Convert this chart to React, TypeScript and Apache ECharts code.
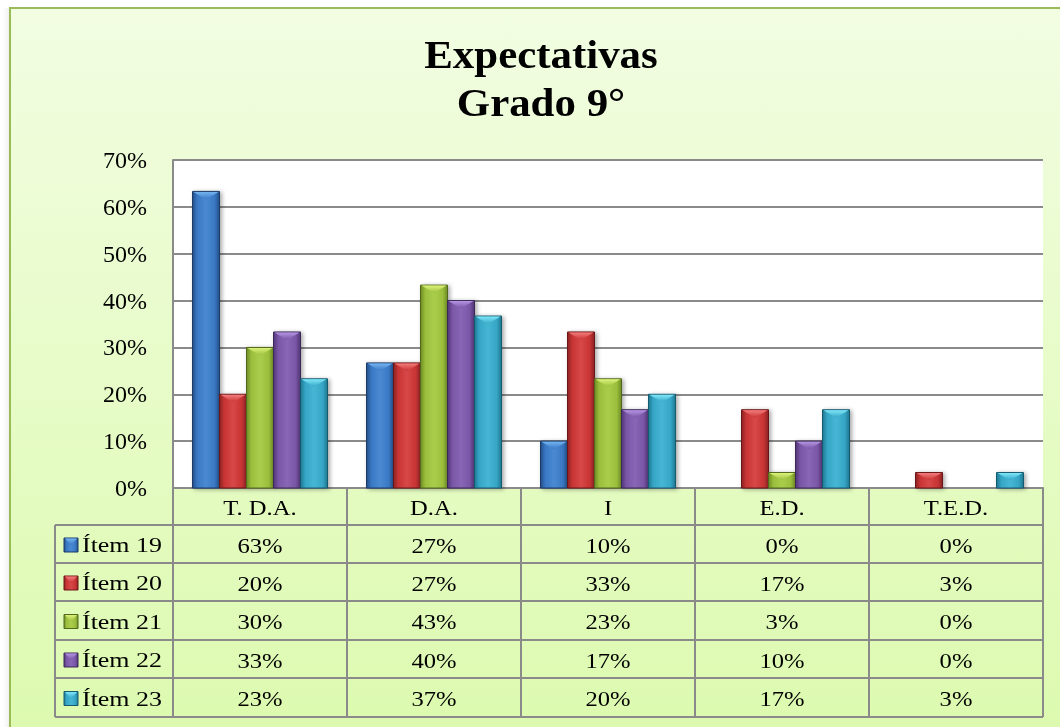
import React, { useEffect, useRef } from "react";
import * as echarts from "echarts";

const titleLines = ["Expectativas", "Grado 9°"];
const categories = ["T. D.A.", "D.A.", "I", "E.D.", "T.E.D."];
const seriesNames = ["Ítem 19", "Ítem 20", "Ítem 21", "Ítem 22", "Ítem 23"];
const item19 = [63.3, 26.7, 10, 0, 0];
const item20 = [20, 26.7, 33.3, 16.7, 3.3];
const item21 = [30, 43.3, 23.3, 3.3, 0];
const item22 = [33.3, 40, 16.7, 10, 0];
const item23 = [23.3, 36.7, 20, 16.7, 3.3];
const seriesData = [item19, item20, item21, item22, item23];
const yTicks = [0, 10, 20, 30, 40, 50, 60, 70];

const palettes = [
  { edge: "#234f88", main: "#3a78c4", light: "#4a8ad2", bevel: "#74b4f0", stroke: "#1b3b66" },
  { edge: "#8c2222", main: "#c83434", light: "#d84848", bevel: "#f47c7c", stroke: "#6a1818" },
  { edge: "#6e8c26", main: "#9bbf3c", light: "#aacd4c", bevel: "#dcf27a", stroke: "#52681c" },
  { edge: "#503676", main: "#7a56a6", light: "#8966b6", bevel: "#b494e2", stroke: "#3c2858" },
  { edge: "#1f7892", main: "#36a6c6", light: "#46b6d4", bevel: "#7ee6f8", stroke: "#175a6e" },
];

const FONT = '"Liberation Serif", "Times New Roman", serif';
const GRID_L = 173, GRID_T = 160, GRID_R = 1043, GRID_B = 488;
const LEG_L = 55;
const ROW_Y = [488, 525, 563, 601, 640, 678, 717];
const GROUP_FRAC = 135 / 174;
const LINE = "#8a8a8a";
const SX = 1.12;

function barFill(p: any) {
  return new echarts.graphic.LinearGradient(0, 0, 1, 0, [
    { offset: 0, color: p.edge },
    { offset: 0.18, color: p.main },
    { offset: 0.5, color: p.light },
    { offset: 0.82, color: p.main },
    { offset: 1, color: p.edge },
  ]);
}

function bevelFill(p: any) {
  return new echarts.graphic.LinearGradient(0, 0, 0, 1, [
    { offset: 0, color: p.bevel },
    { offset: 1, color: p.main },
  ]);
}

export default function App() {
  const ref = useRef<HTMLDivElement>(null);
  useEffect(() => {
    if (!ref.current) return;
    const chart = echarts.init(ref.current, undefined, { renderer: "svg" });

    const series = seriesData.map((data, s) => ({
      type: "custom",
      name: seriesNames[s],
      data: data.map((v, i) => [i, v]),
      z: 5,
      renderItem: (params: any, api: any) => {
        const ci = api.value(0);
        const v = api.value(1);
        if (!v) return null;
        const base = api.coord([ci, 0]);
        const top = api.coord([ci, v]);
        const band = api.size([1, 0])[0];
        const gw = band * GROUP_FRAC;
        const bw = gw / seriesData.length;
        const x = base[0] - gw / 2 + s * bw;
        const h = base[1] - top[1];
        const p = palettes[s];
        const bh = Math.min(8, h * 0.5);
        return {
          type: "group",
          children: [
            {
              type: "rect",
              shape: { x, y: top[1], width: bw, height: h },
              style: { fill: barFill(p), stroke: p.stroke, lineWidth: 1, shadowBlur: 4, shadowColor: "rgba(0,0,0,0.35)", shadowOffsetX: 2, shadowOffsetY: 1 },
            },
            {
              type: "polygon",
              shape: { points: [[x + 1, top[1] + 0.5], [x + bw - 1, top[1] + 0.5], [x + bw / 2, top[1] + bh]] },
              style: { fill: bevelFill(p) },
            },
          ],
        };
      },
    }));

    const graphics: any[] = [];
    // left shadow of the frame
    graphics.push({
      type: "rect",
      z: -101,
      shape: { x: 0, y: 8, width: 10, height: 730 },
      style: {
        fill: new echarts.graphic.LinearGradient(0, 0, 1, 0, [
          { offset: 0, color: "rgba(255,255,255,0)" },
          { offset: 1, color: "rgba(0,0,0,0.08)" },
        ]),
      },
    });
    // background frame
    graphics.push({
      type: "rect",
      z: -100,
      shape: { x: 10, y: 8, width: 1070, height: 740 },
      style: {
        fill: new echarts.graphic.LinearGradient(0, 0, 0, 1, [
          { offset: 0, color: "#f2fde2" },
          { offset: 1, color: "#dcfaae" },
        ]),
        stroke: "#9bbb59",
        lineWidth: 2,
      },
    });
    // table lines
    const colW = (GRID_R - GRID_L) / categories.length;
    const lineStyle = { stroke: LINE, lineWidth: 2 };
    for (let r = 1; r < ROW_Y.length; r++) {
      graphics.push({ type: "line", z: 10, shape: { x1: LEG_L, y1: ROW_Y[r], x2: GRID_R, y2: ROW_Y[r] }, style: lineStyle });
    }
    for (let c = 0; c <= categories.length; c++) {
      const x = GRID_L + c * colW;
      graphics.push({ type: "line", z: 10, shape: { x1: x, y1: ROW_Y[0], x2: x, y2: ROW_Y[ROW_Y.length - 1] }, style: lineStyle });
    }
    graphics.push({ type: "line", z: 10, shape: { x1: LEG_L, y1: ROW_Y[1], x2: LEG_L, y2: ROW_Y[ROW_Y.length - 1] }, style: lineStyle });
    // header texts
    categories.forEach((c, i) => {
      graphics.push({
        type: "text", z: 11,
        x: GRID_L + (i + 0.5) * colW, y: (ROW_Y[0] + ROW_Y[1]) / 2 + 1, scaleX: SX,
        style: { text: c, font: `22px ${FONT}`, fill: "#000", align: "center", verticalAlign: "middle" },
      });
    });
    // rows
    seriesData.forEach((data, s) => {
      const yc = (ROW_Y[s + 1] + ROW_Y[s + 2]) / 2 + 1;
      const p = palettes[s];
      graphics.push({
        type: "rect", z: 11,
        shape: { x: 64, y: yc - 7, width: 14, height: 14 },
        style: { fill: barFill(p), stroke: p.stroke, lineWidth: 1 },
      });
      graphics.push({
        type: "polygon", z: 12,
        shape: { points: [[65, yc - 6.5], [77, yc - 6.5], [71, yc]] },
        style: { fill: bevelFill(p) },
      });
      graphics.push({
        type: "text", z: 11,
        x: 82, y: yc, scaleX: 1.18,
        style: { text: seriesNames[s], font: `22px ${FONT}`, fill: "#000", align: "left", verticalAlign: "middle" },
      });
      data.forEach((v, i) => {
        graphics.push({
          type: "text", z: 11,
          x: GRID_L + (i + 0.5) * colW, y: yc, scaleX: SX,
          style: { text: `${Math.round(v)}%`, font: `22px ${FONT}`, fill: "#000", align: "center", verticalAlign: "middle" },
        });
      });
    });
    // title
    titleLines.forEach((t, i) => {
      graphics.push({
        type: "text", z: 11,
        x: 541, y: 55 + i * 48, scaleX: 1.1,
        style: { text: t, font: `bold 39px ${FONT}`, fill: "#000", align: "center", verticalAlign: "middle" },
      });
    });

    chart.setOption({
      animation: false,
      grid: {
        left: GRID_L, top: GRID_T, width: GRID_R - GRID_L, height: GRID_B - GRID_T,
        show: true, backgroundColor: "#ffffff", borderColor: LINE, borderWidth: 0,
      },
      xAxis: {
        type: "category",
        data: categories,
        axisLine: { show: true, lineStyle: { color: LINE, width: 2 } },
        axisTick: { show: false },
        axisLabel: { show: false },
      },
      yAxis: {
        type: "value",
        min: yTicks[0],
        max: yTicks[yTicks.length - 1],
        interval: 10,
        axisLine: { show: true, lineStyle: { color: LINE, width: 2 } },
        axisTick: { show: false },
        axisLabel: { formatter: (v: number) => `${v}%`, fontFamily: FONT, fontSize: 24, color: "#000", margin: 26 },
        splitLine: { show: true, lineStyle: { color: LINE, width: 2 } },
      },
      graphic: { elements: graphics },
      series,
    });
    return () => chart.dispose();
  }, []);
  return <div ref={ref} style={{ position: "fixed", left: 0, top: 0, width: 1060, height: 727 }} />;
}
